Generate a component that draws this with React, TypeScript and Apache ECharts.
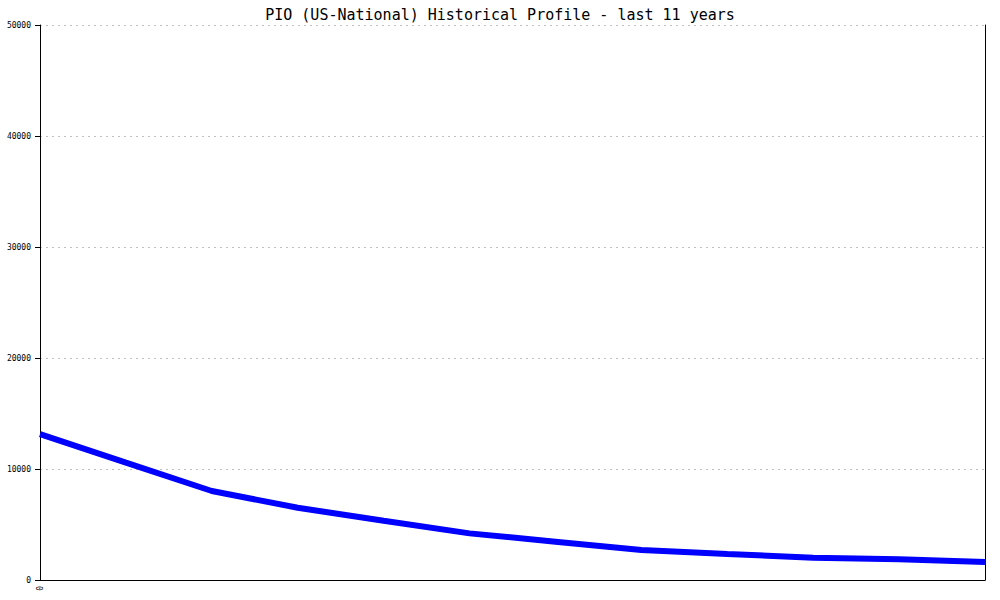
import React, { useEffect, useRef } from "react";
import * as echarts from "echarts";

const yearIndex = [0, 1, 2, 3, 4, 5, 6, 7, 8, 9, 10, 11];
const values = [13150, 10580, 8020, 6510, 5340, 4200, 3450, 2700, 2340, 2010, 1860, 1620];
const yTicks = { min: 0, max: 50000, interval: 10000 };
const titleText = "PIO (US-National) Historical Profile - last 11 years";

export default function App() {
  const ref = useRef<HTMLDivElement>(null);
  useEffect(() => {
    if (!ref.current) return;
    const chart = echarts.init(ref.current, null, { renderer: "svg" });
    const mono = "DejaVu Sans Mono, monospace";
    chart.setOption({
      animation: false,
      backgroundColor: "#ffffff",
      title: {
        text: titleText,
        left: "center",
        top: 2,
        textStyle: { fontFamily: mono, fontSize: 15, fontWeight: "normal", color: "#000" },
      },
      grid: { left: 40, right: 15, top: 25, bottom: 20, containLabel: false },
      xAxis: {
        type: "value",
        min: 0,
        max: 11,
        interval: 11,
        axisLine: { show: true, lineStyle: { color: "#000", width: 1 } },
        axisTick: { show: false },
        splitLine: { show: false },
        axisLabel: {
          rotate: 90,
          fontFamily: mono,
          fontSize: 8,
          color: "#000",
          margin: 6,
          formatter: (v: number) => (v === 0 ? "0" : ""),
        },
      },
      yAxis: [
        {
          type: "value",
          min: yTicks.min,
          max: yTicks.max,
          interval: yTicks.interval,
          axisLine: { show: true, lineStyle: { color: "#000", width: 1 } },
          axisTick: { show: true, length: 5, lineStyle: { color: "#000" } },
          axisLabel: {
            fontFamily: mono,
            fontSize: 8,
            color: "#000",
            margin: 9,
            formatter: (v: number) => String(v),
          },
          splitLine: {
            show: true,
            lineStyle: { color: "#c0c0c0", type: [2, 4], width: 1 },
          },
        },
        {
          type: "value",
          position: "right",
          min: yTicks.min,
          max: yTicks.max,
          interval: yTicks.interval,
          axisLine: { show: true, lineStyle: { color: "#000", width: 1 } },
          axisTick: { show: false },
          axisLabel: { show: false },
          splitLine: { show: false },
        },
      ],
      series: [
        {
          type: "line",
          data: yearIndex.map((x, i) => [x, values[i]]),
          showSymbol: false,
          symbol: "none",
          lineStyle: { color: "#0000ff", width: 6 },
          yAxisIndex: 0,
        },
      ],
    });
    return () => chart.dispose();
  }, []);
  return (
    <div
      ref={ref}
      style={{ position: "fixed", left: 0, top: 0, width: 1000, height: 600, background: "#fff" }}
    />
  );
}
